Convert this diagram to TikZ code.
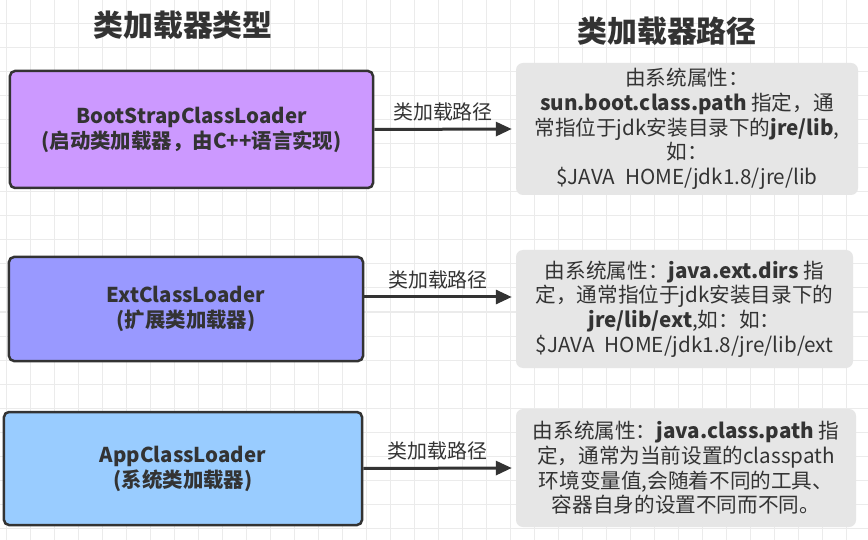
\documentclass[tikz,border=0pt]{standalone}
\usepackage{fontspec}
\setmainfont{Noto Sans CJK SC}
\usetikzlibrary{arrows.meta,positioning}
\definecolor{bootpurple}{HTML}{CC99FF}
\definecolor{extblue}{HTML}{9999FF}
\definecolor{appblue}{HTML}{99CCFF}
\definecolor{pathgray}{HTML}{E6E6E6}
\definecolor{inkgray}{HTML}{333333}
\definecolor{gridgray}{HTML}{EBEBEB}
\begin{document}
\begin{tikzpicture}[x=1bp, y=-1bp,
    loaderbox/.style={draw=inkgray, line width=2.5bp, rounded corners=5bp, text=inkgray,
        align=center, inner sep=0pt, font=\fontsize{20.5}{25}\selectfont\bfseries},
    pathbox/.style={fill=pathgray, rounded corners=7bp, text=inkgray, align=center,
        inner sep=0pt, font=\fontsize{20.7}{24.7}\selectfont},
    loadarrow/.style={draw=inkgray, line width=3bp, -{Triangle[length=16bp, width=14bp]}},
    arrowlabel/.style={font=\fontsize{20}{24}\selectfont, text=inkgray, above=3bp},
    headline/.style={font=\fontsize{30}{34}\selectfont\bfseries, text=inkgray}]
        \useasboundingbox (0, 0) rectangle (868, 540);
        \fill[white] (0, 0) rectangle (868, 540);
        % background grid
        \foreach \gx in {6, 30, ..., 858}
            \draw[gridgray, line width=1bp] (\gx, 0) -- (\gx, 540);
        \foreach \gy in {0, 24, ..., 528}
            \draw[gridgray, line width=1bp] (0, \gy) -- (868, \gy);

        % headings
        \node[headline] (typehead) at (183, 25){类加载器类型};
        \node[headline] (pathhead) at (667, 31){类加载器路径};

        % loaders
        \node[loaderbox, fill=bootpurple, minimum width=363bp, minimum height=117bp] (boot) at (191.5, 129.5)
            {BootStrapClassLoader\\(启动类加载器，由C++语言实现)};
        \node[loaderbox, fill=extblue, minimum width=354bp, minimum height=104bp] (ext) at (186, 309)
            {ExtClassLoader\\(扩展类加载器)};
        \node[loaderbox, fill=appblue, minimum width=358bp, minimum height=113bp] (app) at (183, 468.5)
            {AppClassLoader\\(系统类加载器)};

        % paths
        \node[pathbox, minimum width=342bp, minimum height=132bp] (bootpath) at (687, 129)
            {由系统属性：\\
             \textbf{sun.boot.class.path} 指定，通\\
             常指位于jdk安装目录下的\textbf{jre/lib},\\
             如：\\
             \$JAVA\hspace{0.5em}HOME/jdk1.8/jre/lib};
        \node[pathbox, minimum width=337bp, minimum height=118bp] (extpath) at (684.5, 309)
            {由系统属性：\textbf{java.ext.dirs} 指\\
             定，通常指位于jdk安装目录下的\\
             \textbf{jre/lib/ext},如：如：\\
             \$JAVA\hspace{0.5em}HOME/jdk1.8/jre/lib/ext};
        \node[pathbox, minimum width=340bp, minimum height=118bp] (apppath) at (686, 468)
            {由系统属性：\textbf{java.class.path} 指\\
             定，通常为当前设置的classpath\\
             环境变量值,会随着不同的工具、\\
             容器自身的设置不同而不同。};

        % connectors
        \draw[loadarrow] (boot.east) -- ([xshift=-4bp]bootpath.west)
            node[midway, arrowlabel] (bootlabel){类加载路径};
        \draw[loadarrow] ([yshift=12bp]ext.east) -- ([yshift=12bp, xshift=-4bp]extpath.west)
            node[midway, arrowlabel] (extlabel){类加载路径};
        \draw[loadarrow] (app.east) -- ([xshift=-4bp]apppath.west)
            node[midway, arrowlabel] (applabel){类加载路径};
\end{tikzpicture}
\end{document}
